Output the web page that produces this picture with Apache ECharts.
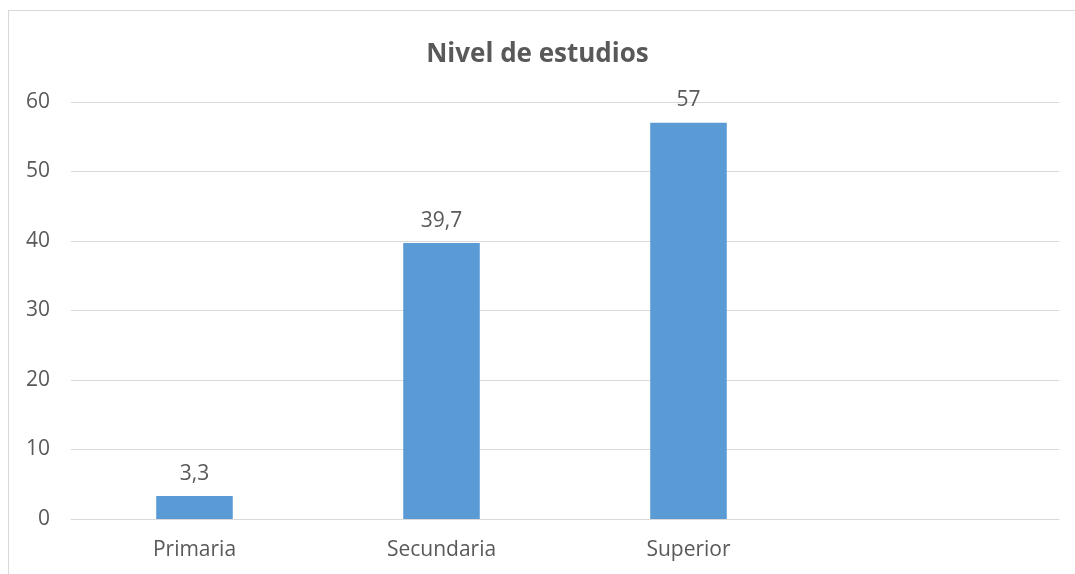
<!DOCTYPE html>
<html>
<head>
<meta charset="utf-8">
<script src="https://cdn.jsdelivr.net/npm/echarts@6/dist/echarts.min.js"></script>
<style>
  html, body { margin: 0; padding: 0; background: #fff; overflow: hidden; width: 1075px; height: 574px; }
  .frame {
    position: absolute;
    left: 8px;
    top: 10px;
    width: 1067px;
    height: 564px;
    border-left: 1px solid #d9d9d9;
    border-top: 1px solid #d9d9d9;
    box-sizing: border-box;
  }
  #chart { position: absolute; left: 0; top: 0; width: 1075px; height: 574px; }
</style>
</head>
<body>
<div class="frame"></div>
<div id="chart"></div>
<script>
// categories (Excel left an empty 4th slot)
const categories = ["Primaria", "Secundaria", "Superior", ""];
const values = [3.3, 39.7, 57, "-"];
const yTicks = { min: 0, max: 60, interval: 10 };

const textColor = "#595959";
const gridColor = "#d9d9d9";

const chart = echarts.init(document.getElementById("chart"), null, { renderer: "canvas" });

chart.setOption({
  backgroundColor: "transparent",
  animation: false,
  title: {
    text: "Nivel de estudios",
    left: "center",
    top: 37,
    textStyle: {
      color: textColor,
      fontFamily: "Open Sans",
      fontWeight: "bold",
      fontSize: 26,
    },
  },
  grid: {
    left: 71,
    right: 16,
    top: 102,
    bottom: 55,
  },
  xAxis: {
    type: "category",
    data: categories,
    axisLine: { lineStyle: { color: gridColor, width: 1 } },
    axisTick: { show: false },
    axisLabel: {
      color: textColor,
      fontFamily: "Open Sans",
      fontSize: 21,
      margin: 21,
      interval: 0,
    },
  },
  yAxis: {
    type: "value",
    min: yTicks.min,
    max: yTicks.max,
    interval: yTicks.interval,
    axisLine: { show: false },
    axisTick: { show: false },
    axisLabel: {
      color: textColor,
      fontFamily: "Open Sans",
      fontSize: 21,
      margin: 21,
    },
    splitLine: { lineStyle: { color: gridColor, width: 1 } },
  },
  series: [
    {
      type: "bar",
      data: values,
      barWidth: "31%",
      itemStyle: { color: "#5b9bd5" },
      label: {
        show: true,
        position: "top",
        distance: 12,
        color: textColor,
        fontFamily: "Open Sans",
        fontSize: 21,
        formatter: (p) => String(p.value).replace(".", ","),
      },
    },
  ],
});
</script>
</body>
</html>
